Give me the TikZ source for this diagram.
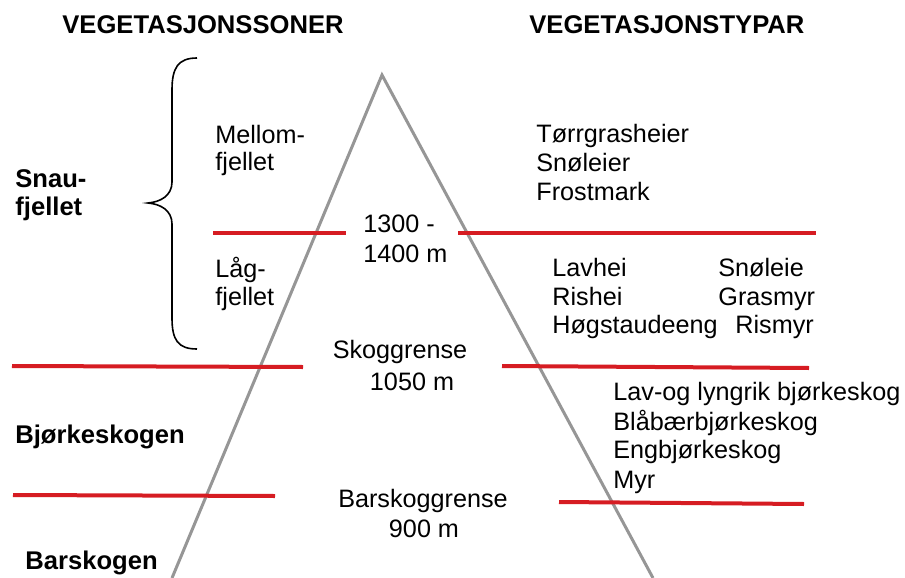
\documentclass[tikz,border=0pt]{standalone}
\usepackage{fontspec}
\setmainfont{Liberation Sans}
\definecolor{grensered}{RGB}{214,28,34}
\definecolor{fjellgray}{RGB}{150,150,150}
\tikzset{
  txt/.style={anchor=base west,inner sep=0pt,font=\fontsize{12.6}{15}\selectfont},
  mid/.style={txt,anchor=base},
  fet/.style={txt,font=\fontsize{12.8}{15}\selectfont\bfseries},
  grense/.style={grensered,line width=2pt},
}
\begin{document}
\begin{tikzpicture}[x=0.5pt,y=-0.5pt]
   \useasboundingbox (0,0) rectangle (905,578);
   % fjellet
   \draw[fjellgray,line width=1.5pt] (172,578) -- (382,75) -- (653,578);
   % grenser
   \draw[grense] (213,233) -- (346,233);
   \draw[grense] (458,233) -- (816,233);
   \draw[grense] (12,366) -- (303,367);
   \draw[grense] (502,366) -- (809,368);
   \draw[grense] (13,495) -- (275,496);
   \draw[grense] (559,502) -- (804,504);
   % klamme
   \draw[line width=0.8pt] (197,58) .. controls (178,58) and (172,68) .. (172,90)
      -- (172,182) .. controls (172,196) and (160,202) .. (148,203)
      .. controls (160,204) and (172,210) .. (172,224)
      -- (172,318) .. controls (172,340) and (178,349) .. (197,349);
   % overskrifter
   \node[fet] (zoner) at (62,33) {VEGETASJONSSONER};
   \node[fet] (typar) at (529,33) {VEGETASJONSTYPAR};
   % soner
   \foreach \n/\x/\y/\t in {snau/15/187/Snau-, snaub/15/215/fjellet,
       bjork/15/443/Bjørkeskogen, bar/25/569/Barskogen}
     \node[fet] (\n) at (\x,\y) {\t};
   \foreach \n/\x/\y/\t in {mellom/215/143/Mellom-, mellomb/215/170/fjellet,
       laag/215/277/Låg-, laagb/215/305/fjellet,
       hoegd/363/232/{1300 -}, hoegdb/363/262/{1400 m},
       torr/536/142/Tørrgrasheier, snol/536/171/Snøleier, frost/536/200/Frostmark,
       lavh/552/276/Lavhei, rish/552/305/Rishei, hogst/552/333/Høgstaudeeng,
       snole/718/276/Snøleie, grasm/718/305/Grasmyr, rism/735/333/Rismyr,
       lavog/613/400/{Lav-og lyngrik bjørkeskog}, blaa/613/430/Blåbærbjørkeskog,
       eng/613/458/Engbjørkeskog, myr/613/488/Myr}
     \node[txt] (\n) at (\x,\y) {\t};
   \foreach \n/\x/\y/\t in {skog/400/358/Skoggrense, skogm/412/390/{1050 m},
       barg/423/507/Barskoggrense, bargm/424/537/{900 m}}
     \node[mid] (\n) at (\x,\y) {\t};
\end{tikzpicture}
\end{document}
